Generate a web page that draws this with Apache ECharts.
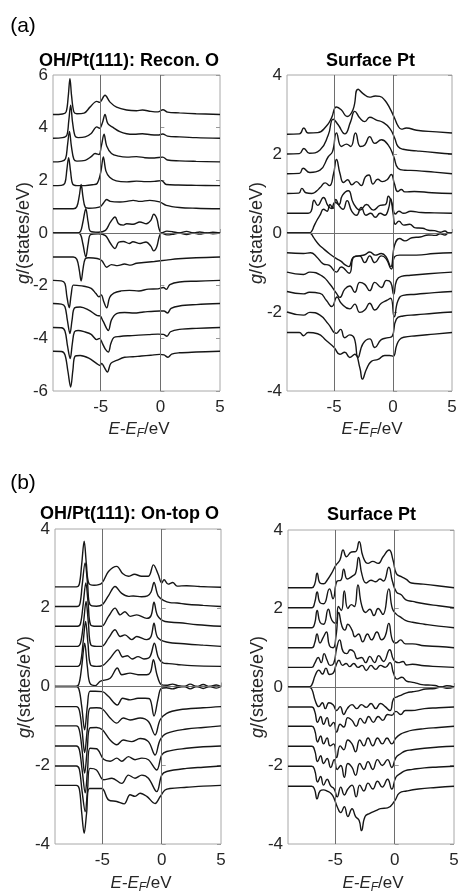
<!DOCTYPE html>
<html><head><meta charset="utf-8">
<script src="https://cdn.jsdelivr.net/npm/echarts@6/dist/echarts.min.js"></script>
<style>html,body{margin:0;padding:0;background:#fff;}#c{width:459px;height:894px;}</style>
</head><body><div id="c"></div>
<script>
// ---------------- DATA (energy E-EF in eV, offset DOS g in states/eV) ----------------
// Panel (a) left: OH/Pt(111) Recon. O  (spin up above, spin down below)
const reconO_up1 = [[-9,4.5],[-8.2,4.52],[-7.9,4.6],[-7.72,5.2],[-7.58,5.86],[-7.44,5.2],[-7.25,4.6],[-7.0,4.53],[-6.4,4.55],[-5.9,4.78],[-5.33,5.0],[-5.1,4.96],[-4.64,5.23],[-4.22,4.97],[-3.67,4.78],[-2.83,4.67],[-2.0,4.64],[-1.5,4.67],[-0.8,4.62],[-0.2,4.6],[0.22,4.68],[0.6,4.59],[1.6,4.56],[3,4.53],[5,4.5]];
const reconO_up2 = [[-9,3.6],[-8.2,3.62],[-7.85,3.7],[-7.68,4.25],[-7.52,4.85],[-7.36,4.2],[-7.15,3.68],[-6.9,3.62],[-6.3,3.65],[-5.8,3.78],[-5.33,4.03],[-5.1,3.98],[-4.85,4.2],[-4.64,4.5],[-4.4,4.15],[-3.94,4.0],[-3.4,3.85],[-2.83,3.77],[-2.2,3.75],[-1.5,3.77],[-0.8,3.73],[-0.2,3.72],[0.2,3.76],[0.6,3.68],[1.6,3.65],[3,3.62],[5,3.6]];
const reconO_up3 = [[-9,2.7],[-8.3,2.72],[-7.95,2.82],[-7.78,3.35],[-7.62,3.86],[-7.46,3.3],[-7.25,2.8],[-7.0,2.73],[-6.3,2.76],[-5.8,2.9],[-5.47,3.02],[-5.15,2.98],[-4.95,3.3],[-4.72,3.75],[-4.5,3.3],[-4.1,3.02],[-3.5,2.92],[-2.8,2.88],[-2.0,2.9],[-1.3,2.86],[-0.5,2.85],[0.2,2.88],[0.6,2.77],[1.6,2.74],[3,2.72],[5,2.7]];
const reconO_up4 = [[-9,1.8],[-8.3,1.81],[-8.0,1.9],[-7.84,2.4],[-7.69,2.86],[-7.53,2.35],[-7.35,1.86],[-7.0,1.8],[-6.3,1.8],[-5.7,1.83],[-5.3,1.88],[-5.0,2.3],[-4.78,2.89],[-4.56,2.35],[-4.25,2.12],[-3.7,1.98],[-2.8,1.94],[-2.0,1.97],[-1.2,1.95],[-0.5,1.96],[0.1,1.99],[0.5,1.84],[1.5,1.82],[3,1.81],[5,1.8]];
const reconO_up5 = [[-9,0.92],[-7.3,0.92],[-7.0,1.0],[-6.8,1.4],[-6.64,1.84],[-6.48,1.35],[-6.3,0.98],[-6.0,0.94],[-5.06,0.99],[-4.75,1.15],[-4.5,1.27],[-4.2,1.2],[-3.39,1.18],[-2.8,1.2],[-2.28,1.24],[-1.7,1.2],[-0.89,1.24],[-0.06,1.18],[0.5,1.05],[1.6,0.97],[3,0.94],[5,0.92]];
const reconO_up6 = [[-9,0],[-7.0,0.0],[-6.7,0.05],[-6.5,0.4],[-6.25,0.92],[-6.05,0.4],[-5.85,0.06],[-5.2,0.03],[-4.6,0.1],[-4.2,0.4],[-3.8,0.61],[-3.5,0.35],[-3.1,0.3],[-2.83,0.35],[-2.28,0.33],[-1.72,0.42],[-1.17,0.35],[-0.8,0.48],[-0.56,0.71],[-0.3,0.55],[-0.1,0.15],[0.1,0.0],[0.55,0.07],[1.0,0.05],[1.6,0.0],[2.2,0.06],[2.75,0.0],[3.3,0.04],[3.85,0.0],[4.4,0.03],[5,0.0]];
const reconO_dn6 = [[-9,0],[-7.0,0.0],[-6.7,-0.05],[-6.5,-0.4],[-6.25,-0.91],[-6.05,-0.4],[-5.85,-0.06],[-5.2,-0.03],[-4.6,-0.1],[-4.2,-0.38],[-3.8,-0.59],[-3.5,-0.35],[-3.1,-0.32],[-2.6,-0.4],[-2.3,-0.33],[-1.7,-0.4],[-1.2,-0.34],[-0.8,-0.5],[-0.56,-0.68],[-0.3,-0.52],[-0.1,-0.15],[0.1,0.0],[0.55,-0.07],[1.0,-0.05],[1.6,0.0],[2.2,-0.06],[2.75,0.0],[3.3,-0.04],[3.85,0.0],[4.4,-0.03],[5,0.0]];
const reconO_dn5 = [[-9,-0.91],[-7.3,-0.91],[-7.0,-1.0],[-6.8,-1.4],[-6.64,-1.82],[-6.48,-1.35],[-6.3,-0.98],[-6.0,-0.94],[-5.3,-0.97],[-4.9,-1.05],[-4.5,-1.3],[-4.1,-1.2],[-3.6,-1.24],[-3.0,-1.18],[-2.5,-1.22],[-2.0,-1.15],[-1.4,-1.12],[-0.5,-1.08],[0.5,-1.03],[1.5,-0.98],[3,-0.94],[5,-0.91]];
const reconO_dn4 = [[-9,-1.8],[-8.3,-1.82],[-8.0,-1.92],[-7.84,-2.4],[-7.64,-2.84],[-7.48,-2.35],[-7.3,-1.98],[-7.0,-1.99],[-6.4,-2.02],[-5.8,-2.1],[-5.4,-2.3],[-5.15,-2.42],[-4.95,-2.35],[-4.75,-2.6],[-4.5,-2.84],[-4.25,-2.45],[-3.9,-2.28],[-3.3,-2.2],[-2.6,-2.18],[-1.8,-2.2],[-1.0,-2.13],[-0.2,-2.12],[0.25,-2.07],[0.5,-2.14],[0.8,-1.96],[1.6,-1.86],[3,-1.83],[5,-1.8]];
const reconO_dn3 = [[-9,-2.68],[-8.3,-2.7],[-8.0,-2.8],[-7.8,-3.3],[-7.58,-3.82],[-7.4,-3.3],[-7.2,-2.85],[-6.72,-2.81],[-6.0,-2.93],[-5.33,-3.13],[-5.05,-3.15],[-4.8,-3.35],[-4.36,-3.7],[-4.1,-3.3],[-3.67,-3.06],[-3.0,-3.02],[-2.2,-3.04],[-1.4,-3.0],[-0.06,-2.96],[0.3,-2.96],[0.6,-3.04],[0.9,-2.86],[1.6,-2.77],[3,-2.72],[5,-2.68]];
const reconO_dn2 = [[-9,-3.59],[-8.3,-3.6],[-8.0,-3.72],[-7.78,-4.3],[-7.56,-4.77],[-7.38,-4.2],[-7.2,-3.75],[-6.9,-3.7],[-6.3,-3.76],[-5.8,-3.85],[-5.33,-4.05],[-5.1,-4.0],[-4.85,-4.2],[-4.6,-4.42],[-4.36,-4.52],[-4.15,-4.2],[-3.9,-3.97],[-3.4,-3.93],[-2.6,-3.9],[-1.8,-3.88],[-1.0,-3.86],[-0.2,-3.84],[0.25,-3.85],[0.55,-3.92],[0.85,-3.75],[1.6,-3.66],[3,-3.62],[5,-3.59]];
const reconO_dn1 = [[-9,-4.49],[-8.3,-4.5],[-8.0,-4.62],[-7.75,-5.25],[-7.52,-5.85],[-7.33,-5.2],[-7.15,-4.68],[-6.72,-4.65],[-6.0,-4.75],[-5.33,-4.96],[-5.05,-5.03],[-4.92,-4.95],[-4.7,-5.1],[-4.44,-5.28],[-4.15,-4.95],[-3.67,-4.84],[-3.0,-4.72],[-2.3,-4.7],[-1.6,-4.67],[-0.8,-4.64],[-0.06,-4.61],[0.3,-4.63],[0.64,-4.72],[0.95,-4.6],[1.6,-4.55],[3,-4.52],[5,-4.49]];

// Panel (a) right: Surface Pt (Recon.)
const reconPt_up1 = [[-9,2.5],[-7.95,2.51],[-7.57,2.66],[-7.2,2.53],[-6.4,2.54],[-5.65,2.71],[-5.23,2.91],[-4.8,3.19],[-4.4,3.12],[-3.9,2.95],[-3.4,3.12],[-2.97,3.64],[-2.55,3.53],[-2.0,3.44],[-1.5,3.47],[-1.13,3.46],[-0.7,3.36],[-0.28,3.16],[0.14,2.9],[0.42,2.71],[0.71,2.63],[1.13,2.66],[2.0,2.6],[3.7,2.56],[5,2.53]];
const reconPt_up2 = [[-9,2.0],[-7.95,2.01],[-7.57,2.14],[-7.1,2.02],[-6.2,2.1],[-5.5,2.48],[-5.08,2.88],[-4.66,2.74],[-4.1,2.51],[-3.6,2.82],[-3.25,3.08],[-2.82,2.91],[-2.4,2.82],[-1.98,2.93],[-1.41,2.86],[-0.85,2.8],[-0.28,2.65],[0.14,2.4],[0.42,2.19],[0.85,2.12],[2.0,2.08],[3.7,2.03],[5,2.0]];
const reconPt_up3 = [[-9,1.5],[-7.95,1.51],[-7.63,1.64],[-7.06,1.53],[-6.2,1.59],[-5.5,1.93],[-5.14,2.06],[-4.8,2.53],[-4.38,2.19],[-3.95,2.25],[-3.6,2.19],[-3.19,2.53],[-2.77,2.19],[-2.4,2.23],[-1.98,2.44],[-1.55,2.27],[-0.99,2.36],[-0.42,2.23],[0.06,1.93],[0.42,1.64],[0.99,1.59],[1.98,1.58],[3.5,1.54],[5,1.5]];
const reconPt_up4 = [[-9,1.0],[-8.0,1.01],[-7.74,1.13],[-7.4,1.02],[-6.9,1.0],[-6.5,1.06],[-6.19,1.15],[-5.76,1.27],[-5.4,1.2],[-5.05,1.5],[-4.8,1.86],[-4.5,1.5],[-4.2,1.28],[-3.85,1.35],[-3.5,1.22],[-3.1,1.3],[-2.7,1.2],[-2.35,1.42],[-2.05,1.47],[-1.7,1.24],[-1.3,1.36],[-0.9,1.3],[-0.5,1.35],[-0.15,1.48],[0.1,1.26],[0.4,1.05],[0.7,1.1],[1.0,1.04],[1.8,1.05],[3.3,1.02],[5,1.0]];
const reconPt_up5 = [[-9,0.5],[-7.2,0.5],[-6.95,0.55],[-6.7,0.83],[-6.4,0.7],[-5.9,0.9],[-5.54,0.7],[-5.25,0.62],[-4.92,0.78],[-4.6,0.72],[-4.3,0.95],[-3.8,1.07],[-3.36,0.75],[-2.8,0.58],[-2.25,0.72],[-1.67,0.58],[-1.1,0.7],[-0.65,0.72],[-0.4,0.93],[-0.1,0.75],[0.2,0.48],[0.5,0.55],[0.9,0.5],[1.5,0.55],[2.4,0.52],[3.5,0.51],[5,0.5]];
const reconPt_up6 = [[-9,0],[-7.1,0],[-6.9,0.05],[-6.7,0.18],[-6.45,0.33],[-6.2,0.45],[-5.9,0.6],[-5.6,0.55],[-5.35,0.72],[-5.1,0.62],[-4.85,0.85],[-4.6,0.7],[-4.25,0.6],[-3.9,0.82],[-3.5,0.55],[-3.1,0.45],[-2.7,0.65],[-2.3,0.45],[-1.9,0.5],[-1.5,0.4],[-1.1,0.5],[-0.7,0.45],[-0.4,0.6],[-0.2,0.87],[0.0,0.5],[0.2,0.22],[0.5,0.3],[0.9,0.2],[1.4,0.22],[1.9,0.13],[2.5,0.12],[3.0,0.07],[3.5,0.06],[4.0,0.02],[4.4,0.05],[4.7,0.0],[5,0.01]];
const reconPt_dn6 = [[-9,0],[-7.1,0],[-6.9,-0.04],[-6.78,-0.1],[-6.36,-0.27],[-5.9,-0.4],[-5.37,-0.53],[-4.8,-0.65],[-4.4,-0.72],[-4.1,-0.8],[-3.75,-0.85],[-3.4,-0.62],[-2.9,-0.58],[-2.4,-0.55],[-1.98,-0.48],[-1.5,-0.56],[-1.0,-0.52],[-0.6,-0.6],[-0.2,-0.85],[0.14,-0.3],[0.56,-0.14],[1.0,-0.2],[1.6,-0.12],[2.3,-0.1],[3.0,-0.05],[3.6,-0.06],[4.0,-0.02],[4.4,-0.05],[4.7,0.0],[5,-0.01]];
const reconPt_dn5 = [[-9,-0.5],[-7.6,-0.52],[-7.0,-0.5],[-6.5,-0.6],[-5.93,-0.78],[-5.4,-0.82],[-4.8,-0.99],[-4.4,-0.86],[-3.73,-1.02],[-3.33,-0.61],[-2.85,-0.58],[-2.4,-0.75],[-1.98,-0.58],[-1.55,-0.75],[-0.99,-0.58],[-0.6,-0.65],[-0.14,-0.91],[0.14,-0.6],[0.56,-0.56],[1.98,-0.56],[3.5,-0.52],[5,-0.5]];
const reconPt_dn4 = [[-9,-0.99],[-7.6,-1.05],[-7.06,-0.99],[-6.07,-1.08],[-5.37,-1.29],[-4.8,-1.53],[-4.52,-1.63],[-4.1,-1.42],[-3.67,-1.34],[-3.25,-1.5],[-2.82,-1.25],[-2.4,-1.3],[-1.98,-1.46],[-1.55,-1.25],[-0.99,-1.38],[-0.56,-1.2],[-0.2,-1.25],[0.05,-1.55],[0.3,-1.2],[0.7,-1.1],[1.5,-1.07],[3,-1.03],[5,-0.99]];
const reconPt_dn3 = [[-9,-1.48],[-7.6,-1.54],[-7.1,-1.5],[-6.2,-1.53],[-5.65,-1.71],[-5.2,-1.86],[-4.75,-1.62],[-4.4,-1.78],[-3.67,-1.92],[-3.25,-1.8],[-2.82,-2.01],[-2.4,-1.95],[-1.98,-1.78],[-1.55,-1.95],[-1.0,-1.78],[-0.5,-1.7],[-0.2,-1.65],[0.1,-2.12],[0.42,-1.71],[0.85,-1.58],[2.0,-1.55],[3.5,-1.51],[5,-1.48]];
const reconPt_dn2 = [[-9,-2.0],[-7.6,-2.08],[-7.06,-2.01],[-6.2,-2.08],[-5.5,-2.3],[-4.8,-2.54],[-4.45,-2.44],[-4.1,-2.65],[-3.67,-2.58],[-3.3,-2.66],[-2.97,-3.15],[-2.55,-2.8],[-1.98,-2.68],[-1.55,-2.9],[-1.0,-2.7],[-0.4,-2.65],[-0.08,-2.62],[0.28,-2.18],[0.85,-2.1],[2.0,-2.07],[3.5,-2.03],[5,-2.0]];
const reconPt_dn1 = [[-9,-2.52],[-7.95,-2.52],[-7.6,-2.6],[-7.2,-2.52],[-6.4,-2.55],[-5.65,-2.73],[-5.0,-2.9],[-4.52,-3.07],[-4.1,-3.02],[-3.67,-3.15],[-3.25,-3.07],[-2.82,-3.41],[-2.6,-3.7],[-2.26,-3.45],[-1.84,-3.25],[-1.27,-3.2],[-0.71,-3.1],[-0.3,-3.1],[0.0,-3.12],[0.3,-2.85],[0.55,-2.7],[0.9,-2.64],[2.0,-2.6],[3.5,-2.56],[5,-2.52]];

// Panel (b) left: OH/Pt(111) On-top O
const ontopO_up1 = [[-9,2.53],[-7.2,2.53],[-6.95,2.6],[-6.75,3.1],[-6.54,3.69],[-6.35,3.1],[-6.15,2.62],[-5.7,2.57],[-5.06,2.62],[-4.49,2.92],[-3.79,3.05],[-3.3,2.87],[-2.81,2.8],[-2.3,2.85],[-1.7,2.8],[-1.12,2.8],[-0.7,3.09],[-0.3,2.85],[0.0,2.63],[0.2,2.71],[0.55,2.6],[0.93,2.64],[1.3,2.55],[2.1,2.56],[3.2,2.54],[5,2.52]];
const ontopO_up2 = [[-9,2.03],[-7.15,2.03],[-6.9,2.1],[-6.7,2.6],[-6.46,3.14],[-6.25,2.6],[-6.05,2.08],[-5.5,2.04],[-5.0,2.08],[-4.5,2.3],[-3.93,2.54],[-3.4,2.37],[-2.8,2.29],[-2.4,2.3],[-1.7,2.28],[-1.2,2.3],[-0.9,2.4],[-0.65,2.64],[-0.3,2.3],[0.2,2.18],[0.7,2.13],[1.3,2.12],[2.1,2.09],[3.5,2.06],[5,2.03]];
const ontopO_up3 = [[-9,1.53],[-7.1,1.53],[-6.85,1.6],[-6.62,2.1],[-6.4,2.63],[-6.2,2.1],[-6.0,1.57],[-5.5,1.53],[-5.06,1.53],[-4.49,1.78],[-3.93,1.99],[-3.5,1.82],[-3.1,1.9],[-2.67,1.78],[-2.1,1.82],[-1.26,1.73],[-0.9,1.8],[-0.65,2.14],[-0.35,1.8],[0.28,1.65],[1.5,1.62],[3,1.57],[5,1.53]];
const ontopO_up4 = [[-9,1.02],[-7.1,1.02],[-6.85,1.1],[-6.6,1.6],[-6.38,2.16],[-6.18,1.6],[-5.98,1.06],[-5.5,1.02],[-5.06,1.02],[-4.49,1.23],[-3.93,1.44],[-3.5,1.27],[-3.1,1.31],[-2.53,1.19],[-2.1,1.27],[-1.26,1.19],[-0.9,1.27],[-0.65,1.61],[-0.35,1.25],[0.4,1.13],[2.1,1.08],[3.5,1.05],[5,1.02]];
const ontopO_up5 = [[-9,0.51],[-7.1,0.51],[-6.85,0.6],[-6.62,1.15],[-6.42,1.65],[-6.22,1.1],[-6.0,0.55],[-5.5,0.51],[-5.0,0.53],[-4.4,0.7],[-3.7,0.93],[-3.3,0.75],[-2.9,0.78],[-2.5,0.7],[-2.0,0.76],[-1.5,0.7],[-1.0,0.75],[-0.62,1.1],[-0.3,0.75],[0.1,0.6],[0.6,0.58],[1.3,0.56],[2.5,0.53],[5,0.51]];
const ontopO_up6 = [[-9,0],[-7.3,0],[-7.0,0.05],[-6.75,0.5],[-6.5,1.1],[-6.27,0.5],[-6.05,0.08],[-5.6,0.02],[-5.2,0.13],[-4.35,0.21],[-3.74,0.47],[-3.37,0.3],[-2.67,0.34],[-2.0,0.3],[-1.26,0.3],[-0.95,0.36],[-0.7,0.68],[-0.4,0.3],[-0.05,0.05],[0.4,0.03],[0.9,0.06],[1.4,0.02],[1.9,0.0],[2.4,0.06],[2.95,0.0],[3.5,0.05],[4.05,0.0],[4.6,0.04],[5,0.0]];
const ontopO_dn6 = [[-9,0],[-7.3,0],[-7.0,-0.05],[-6.75,-0.5],[-6.5,-1.1],[-6.27,-0.5],[-6.05,-0.12],[-5.6,-0.12],[-5.0,-0.13],[-4.5,-0.25],[-3.74,-0.47],[-3.3,-0.3],[-2.67,-0.34],[-2.0,-0.3],[-1.4,-0.3],[-1.0,-0.32],[-0.65,-0.75],[-0.3,-0.3],[-0.05,-0.05],[0.4,-0.03],[0.9,-0.06],[1.4,-0.02],[1.9,0.0],[2.4,-0.06],[2.95,0.0],[3.5,-0.05],[4.05,0.0],[4.6,-0.04],[5,0]];
const ontopO_dn5 = [[-9,-0.51],[-7.2,-0.51],[-6.95,-0.6],[-6.72,-1.1],[-6.5,-1.68],[-6.28,-1.1],[-6.05,-0.55],[-5.5,-0.54],[-5.0,-0.57],[-4.35,-0.8],[-3.79,-0.93],[-3.25,-0.8],[-2.67,-0.85],[-1.82,-0.8],[-1.12,-0.89],[-0.56,-1.23],[-0.14,-0.85],[0.42,-0.68],[1.5,-0.59],[3.5,-0.54],[5,-0.51]];
const ontopO_dn4 = [[-9,-1.0],[-7.2,-1.0],[-6.95,-1.1],[-6.72,-1.6],[-6.5,-2.2],[-6.28,-1.6],[-6.05,-1.05],[-5.5,-1.04],[-5.0,-1.1],[-4.35,-1.36],[-3.79,-1.48],[-3.25,-1.36],[-2.53,-1.4],[-1.82,-1.32],[-1.12,-1.4],[-0.56,-1.74],[-0.14,-1.36],[0.42,-1.19],[2.1,-1.08],[3.5,-1.04],[5,-1.0]];
const ontopO_dn3 = [[-9,-1.51],[-7.2,-1.51],[-6.95,-1.6],[-6.72,-2.1],[-6.45,-2.7],[-6.25,-2.1],[-6.05,-1.57],[-5.5,-1.58],[-4.9,-1.85],[-4.35,-1.9],[-3.79,-1.82],[-3.37,-1.9],[-2.81,-1.78],[-2.25,-1.86],[-1.68,-1.82],[-1.12,-1.86],[-0.42,-2.12],[0.0,-1.74],[0.42,-1.65],[2.1,-1.57],[3.5,-1.53],[5,-1.51]];
const ontopO_dn2 = [[-9,-2.02],[-7.2,-2.02],[-6.95,-2.1],[-6.72,-2.65],[-6.45,-3.18],[-6.25,-2.6],[-6.05,-2.08],[-5.5,-2.12],[-4.9,-2.37],[-4.2,-2.33],[-3.37,-2.46],[-2.81,-2.25],[-2.25,-2.33],[-1.68,-2.25],[-1.12,-2.33],[-0.42,-2.67],[0.0,-2.25],[0.42,-2.16],[2.1,-2.08],[3.5,-2.05],[5,-2.02]];
const ontopO_dn1 = [[-9,-2.51],[-7.2,-2.51],[-6.95,-2.6],[-6.75,-3.2],[-6.54,-3.73],[-6.33,-3.2],[-6.1,-2.59],[-5.06,-2.59],[-4.49,-2.88],[-3.79,-2.92],[-3.17,-2.98],[-2.67,-2.75],[-2.25,-2.79],[-1.82,-2.71],[-1.26,-2.79],[-0.56,-2.97],[-0.14,-2.8],[0.28,-2.63],[0.7,-2.59],[2.1,-2.56],[3.5,-2.53],[5,-2.51]];

// Panel (b) right: Surface Pt (On-top)
const ontopPt_up1 = [[-9,2.53],[-7.0,2.53],[-6.75,2.62],[-6.54,2.9],[-6.3,2.65],[-6.0,2.63],[-5.7,2.72],[-5.34,2.89],[-4.97,3.1],[-4.63,3.23],[-4.35,3.49],[-4.07,3.32],[-3.65,3.44],[-3.3,3.45],[-3.0,3.7],[-2.67,3.32],[-2.25,3.15],[-1.85,3.2],[-1.4,3.15],[-0.98,3.32],[-0.48,3.49],[-0.14,3.23],[0.14,2.89],[0.56,2.81],[0.98,2.74],[1.4,2.65],[2.4,2.62],[3.6,2.58],[5,2.53]];
const ontopPt_up2 = [[-9,2.02],[-7.0,2.02],[-6.75,2.15],[-6.54,2.42],[-6.3,2.15],[-6.0,2.12],[-5.5,2.5],[-5.2,2.25],[-4.85,2.7],[-4.55,2.72],[-4.3,3.0],[-4.0,2.75],[-3.6,2.82],[-3.3,2.9],[-3.05,3.3],[-2.75,2.85],[-2.4,2.65],[-2.0,2.72],[-1.6,2.68],[-1.25,2.75],[-0.95,2.7],[-0.5,3.05],[-0.2,2.7],[0.15,2.42],[0.55,2.35],[0.95,2.22],[1.5,2.18],[2.5,2.12],[3.7,2.07],[5,2.02]];
const ontopPt_up3 = [[-9,1.51],[-7.0,1.51],[-6.75,1.62],[-6.54,1.95],[-6.3,1.65],[-6.0,1.6],[-5.6,1.98],[-5.3,1.7],[-4.95,1.62],[-4.75,2.05],[-4.5,1.95],[-4.25,2.45],[-3.95,2.0],[-3.65,2.1],[-3.4,2.05],[-3.1,2.6],[-2.8,2.1],[-2.45,1.9],[-2.1,1.98],[-1.75,1.82],[-1.4,2.0],[-1.0,1.85],[-0.5,2.5],[-0.2,2.0],[0.15,1.85],[0.5,1.78],[0.9,1.7],[1.5,1.65],[2.5,1.6],[3.7,1.55],[5,1.51]];
const ontopPt_up4 = [[-9,1.0],[-7.0,1.0],[-6.75,1.12],[-6.55,1.35],[-6.3,1.12],[-6.05,1.25],[-5.76,1.4],[-5.5,1.05],[-5.2,1.0],[-4.95,1.3],[-4.72,1.9],[-4.45,1.55],[-4.2,1.45],[-3.95,1.6],[-3.6,1.45],[-3.35,1.28],[-3.05,1.35],[-2.7,1.15],[-2.3,1.35],[-1.95,1.2],[-1.5,1.4],[-1.1,1.2],[-0.8,1.3],[-0.5,1.62],[-0.2,1.2],[0.1,1.12],[0.5,1.2],[0.9,1.1],[1.5,1.1],[2.5,1.05],[3.7,1.03],[5,1.0]];
const ontopPt_up5 = [[-9,0.5],[-7.0,0.5],[-6.75,0.6],[-6.45,0.75],[-6.2,0.62],[-5.95,0.85],[-5.7,0.68],[-5.45,0.55],[-5.15,0.6],[-4.9,0.98],[-4.65,1.2],[-4.35,0.9],[-4.05,0.85],[-3.75,0.95],[-3.45,0.9],[-3.15,0.72],[-2.8,0.75],[-2.45,0.62],[-2.1,0.78],[-1.7,0.62],[-1.35,0.8],[-0.95,0.65],[-0.42,0.95],[-0.1,0.7],[0.3,0.62],[0.7,0.65],[1.0,0.56],[1.5,0.58],[2.5,0.54],[3.7,0.52],[5,0.5]];
const ontopPt_up6 = [[-9,0],[-7.25,0.0],[-7.0,0.05],[-6.7,0.3],[-6.4,0.43],[-6.1,0.33],[-5.8,0.48],[-5.5,0.32],[-5.2,0.35],[-4.95,0.55],[-4.7,0.68],[-4.4,0.55],[-4.1,0.6],[-3.8,0.52],[-3.45,0.6],[-3.1,0.5],[-2.75,0.55],[-2.4,0.42],[-2.0,0.55],[-1.6,0.45],[-1.2,0.55],[-0.8,0.5],[-0.4,0.62],[-0.1,0.35],[0.2,0.2],[0.6,0.25],[1.0,0.15],[1.3,0.13],[1.8,0.1],[2.3,0.06],[2.8,0.05],[3.4,0.04],[3.9,0.0],[4.4,0.03],[5,0.0]];
const ontopPt_dn6 = [[-9,0],[-7.25,0],[-7.0,-0.05],[-6.7,-0.35],[-6.4,-0.5],[-6.1,-0.4],[-5.85,-0.55],[-5.55,-0.4],[-5.2,-0.45],[-4.9,-0.6],[-4.6,-0.5],[-4.3,-0.7],[-4.0,-0.55],[-3.6,-0.45],[-3.2,-0.55],[-2.8,-0.45],[-2.4,-0.52],[-2.0,-0.42],[-1.6,-0.55],[-1.2,-0.42],[-0.8,-0.5],[-0.4,-0.6],[-0.1,-0.3],[0.2,-0.25],[0.6,-0.2],[1.0,-0.15],[1.5,-0.12],[2.0,-0.1],[2.6,-0.05],[3.4,-0.04],[3.9,0.0],[4.4,-0.03],[5,0]];
const ontopPt_dn5 = [[-9,-0.51],[-7.0,-0.51],[-6.75,-0.62],[-6.5,-0.9],[-6.25,-0.75],[-6.0,-0.95],[-5.7,-0.78],[-5.45,-1.0],[-5.15,-0.9],[-4.9,-1.15],[-4.6,-0.95],[-4.3,-1.02],[-3.95,-0.78],[-3.6,-0.85],[-3.25,-1.0],[-2.9,-0.8],[-2.55,-0.92],[-2.2,-0.75],[-1.8,-0.9],[-1.4,-0.75],[-1.0,-0.85],[-0.6,-0.7],[-0.25,-0.72],[0.1,-0.62],[0.5,-0.7],[0.9,-0.6],[1.4,-0.6],[2.5,-0.55],[3.7,-0.53],[5,-0.51]];
const ontopPt_dn4 = [[-9,-1.0],[-7.0,-1.0],[-6.75,-1.1],[-6.5,-1.4],[-6.25,-1.25],[-6.0,-1.45],[-5.7,-1.3],[-5.45,-1.5],[-5.15,-1.45],[-4.9,-1.8],[-4.6,-1.5],[-4.3,-1.6],[-3.95,-1.35],[-3.6,-1.45],[-3.3,-1.65],[-2.95,-1.35],[-2.6,-1.5],[-2.25,-1.3],[-1.85,-1.5],[-1.45,-1.3],[-1.05,-1.45],[-0.65,-1.3],[-0.25,-1.45],[0.1,-1.3],[0.5,-1.2],[0.9,-1.15],[1.5,-1.1],[2.5,-1.06],[3.7,-1.03],[5,-1.0]];
const ontopPt_dn3 = [[-9,-1.51],[-7.0,-1.51],[-6.75,-1.62],[-6.5,-1.9],[-6.25,-1.75],[-6.0,-1.95],[-5.7,-1.82],[-5.4,-2.05],[-5.1,-1.85],[-4.85,-2.1],[-4.55,-2.0],[-4.25,-2.3],[-3.95,-1.95],[-3.6,-2.05],[-3.3,-2.25],[-2.95,-1.95],[-2.6,-2.1],[-2.25,-1.9],[-1.85,-2.1],[-1.45,-1.85],[-1.05,-2.0],[-0.6,-1.85],[-0.25,-2.05],[0.1,-1.8],[0.5,-1.7],[0.9,-1.63],[1.5,-1.6],[2.5,-1.56],[3.7,-1.53],[5,-1.51]];
const ontopPt_dn2 = [[-9,-2.02],[-7.0,-2.02],[-6.75,-2.12],[-6.5,-2.42],[-6.25,-2.28],[-6.0,-2.5],[-5.7,-2.35],[-5.4,-2.52],[-5.1,-2.6],[-4.85,-2.8],[-4.55,-2.55],[-4.25,-2.75],[-3.95,-2.6],[-3.6,-2.5],[-3.25,-2.8],[-2.95,-2.5],[-2.6,-2.65],[-2.25,-2.45],[-1.85,-2.6],[-1.45,-2.4],[-1.05,-2.55],[-0.6,-2.35],[-0.25,-2.6],[0.1,-2.3],[0.5,-2.2],[0.9,-2.13],[1.5,-2.1],[2.5,-2.06],[3.7,-2.04],[5,-2.02]];
const ontopPt_dn1 = [[-9,-2.53],[-7.0,-2.53],[-6.75,-2.62],[-6.55,-2.85],[-6.3,-2.65],[-6.0,-2.62],[-5.7,-2.65],[-5.35,-2.72],[-5.1,-2.85],[-4.85,-3.05],[-4.55,-3.2],[-4.25,-3.05],[-3.95,-3.3],[-3.6,-3.1],[-3.3,-3.3],[-3.0,-3.4],[-2.8,-3.66],[-2.5,-3.3],[-2.1,-3.22],[-1.6,-3.15],[-1.2,-3.1],[-0.6,-3.08],[0.0,-2.9],[0.4,-2.7],[1.0,-2.65],[2,-2.6],[3.5,-2.56],[5,-2.53]];

const panelCurves = [
  [reconO_up1,reconO_up2,reconO_up3,reconO_up4,reconO_up5,reconO_up6,reconO_dn6,reconO_dn5,reconO_dn4,reconO_dn3,reconO_dn2,reconO_dn1],
  [reconPt_up1,reconPt_up2,reconPt_up3,reconPt_up4,reconPt_up5,reconPt_up6,reconPt_dn6,reconPt_dn5,reconPt_dn4,reconPt_dn3,reconPt_dn2,reconPt_dn1],
  [ontopO_up1,ontopO_up2,ontopO_up3,ontopO_up4,ontopO_up5,ontopO_up6,ontopO_dn6,ontopO_dn5,ontopO_dn4,ontopO_dn3,ontopO_dn2,ontopO_dn1],
  [ontopPt_up1,ontopPt_up2,ontopPt_up3,ontopPt_up4,ontopPt_up5,ontopPt_up6,ontopPt_dn6,ontopPt_dn5,ontopPt_dn4,ontopPt_dn3,ontopPt_dn2,ontopPt_dn1]
];
const panelTitles = ['OH/Pt(111): Recon. O','Surface Pt','OH/Pt(111): On-top O','Surface Pt'];
const panelLetters = ['(a)','(b)'];
const yRanges = [[-6,6],[-4,4],[-4,4],[-4,4]];
const xRange = [-9,5];
const xTickValues = [-5,0,5];
const refLinesX = [-5,0];

// ---------------- LAYOUT ----------------
const FONT = '"Liberation Sans", Arial, Helvetica, sans-serif';
const boxes = [
  {left:53, top:75, width:167, height:316},
  {left:287, top:75, width:165, height:316},
  {left:55, top:529, width:166, height:315},
  {left:288, top:530, width:166, height:314}
];
const smoothness = [0.35, 0.5, 0.35, 0.5];
const titlePos = [[129,61.5],[370.5,61.5],[129.5,514.5],[371.5,515]];
const yNamePos = [[24,233],[257,233],[25,687],[258,687]];
const xNamePos = [[139,429],[372,429],[141,883],[373,883]];
const letterPos = [[23,26],[23,483]];

const grid = boxes.map(b => Object.assign({show:true, borderColor:'#a8a8a8', borderWidth:1, backgroundColor:'transparent', containLabel:false, outerBoundsMode:'none'}, b));
const xAxis = boxes.map((b,i) => ({
  gridIndex:i, type:'value', min:xRange[0], max:xRange[1],
  axisLine:{show:false},
  axisTick:{show:true, inside:true, length:4, customValues:xTickValues, lineStyle:{color:'#999'}},
  axisLabel:{customValues:xTickValues, fontSize:17, fontFamily:FONT, color:'#262626', margin:8},
  splitLine:{show:false}
}));
const yAxis = [];
boxes.forEach((b,i) => yAxis.push({
  gridIndex:i, type:'value', min:yRanges[i][0], max:yRanges[i][1], interval:2,
  axisLine:{show:false},
  axisTick:{show:true, inside:true, length:4, lineStyle:{color:'#999'}},
  axisLabel:{fontSize:17, fontFamily:FONT, color:'#262626', margin:5},
  splitLine:{show:false}
}));
boxes.forEach((b,i) => yAxis.push({
  gridIndex:i, type:'value', position:'right', min:yRanges[i][0], max:yRanges[i][1], interval:2,
  axisLine:{show:false},
  axisTick:{show:true, inside:true, length:4, lineStyle:{color:'#999'}},
  axisLabel:{show:false}, splitLine:{show:false}
}));

const series = [];
panelCurves.forEach((curves, p) => {
  curves.forEach((data, k) => {
    const s = {
      type:'line', xAxisIndex:p, yAxisIndex:p, data:data,
      showSymbol:false, symbol:'none', smooth:smoothness[p], animation:false, silent:true,
      lineStyle:{color:'#161616', width:1.4}, z:3
    };
    if (k === 0) {
      s.markLine = {
        silent:true, symbol:['none','none'], animation:false, label:{show:false},
        lineStyle:{type:'solid', color:'#6e6e6e', width:1},
        data: refLinesX.map(v => ({xAxis:v})).concat([{yAxis:0}])
      };
    }
    series.push(s);
  });
});

const graphics = [];
panelLetters.forEach((t,i) => graphics.push({type:'text', x:letterPos[i][0], y:letterPos[i][1], silent:true,
  style:{text:t, fontSize:21, fontFamily:FONT, fill:'#000', align:'center', verticalAlign:'middle'}}));
panelTitles.forEach((t,i) => graphics.push({type:'text', x:titlePos[i][0], y:titlePos[i][1], silent:true,
  style:{text:t, fontSize:18, fontWeight:'bold', fontFamily:FONT, fill:'#000', align:'center', verticalAlign:'middle'}}));
yNamePos.forEach(pos => graphics.push({type:'text', x:pos[0], y:pos[1], rotation:Math.PI/2, silent:true,
  style:{text:'{i|g}/(states/eV)', fontSize:18, fontFamily:FONT, fill:'#262626', align:'center', verticalAlign:'middle',
    rich:{i:{fontStyle:'italic', fontSize:18, fontFamily:FONT, fill:'#262626'}}}}));
xNamePos.forEach(pos => graphics.push({type:'text', x:pos[0], y:pos[1], silent:true,
  style:{text:'{i|E-E}{s|F}{n|/eV}', fontSize:17, fontFamily:FONT, fill:'#262626', align:'center', verticalAlign:'middle',
    rich:{
      i:{fontStyle:'italic', fontSize:17, fontFamily:FONT, fill:'#262626', lineHeight:22},
      s:{fontStyle:'italic', fontSize:12, fontFamily:FONT, fill:'#262626', lineHeight:9, verticalAlign:'bottom'},
      n:{fontSize:17, fontFamily:FONT, fill:'#262626', lineHeight:22}
    }}}));

const chart = echarts.init(document.getElementById('c'), null, {renderer:'canvas', width:459, height:894});
chart.setOption({
  backgroundColor:'#ffffff', animation:false,
  grid, xAxis, yAxis, series, graphic: graphics
});
</script>
</body></html>
